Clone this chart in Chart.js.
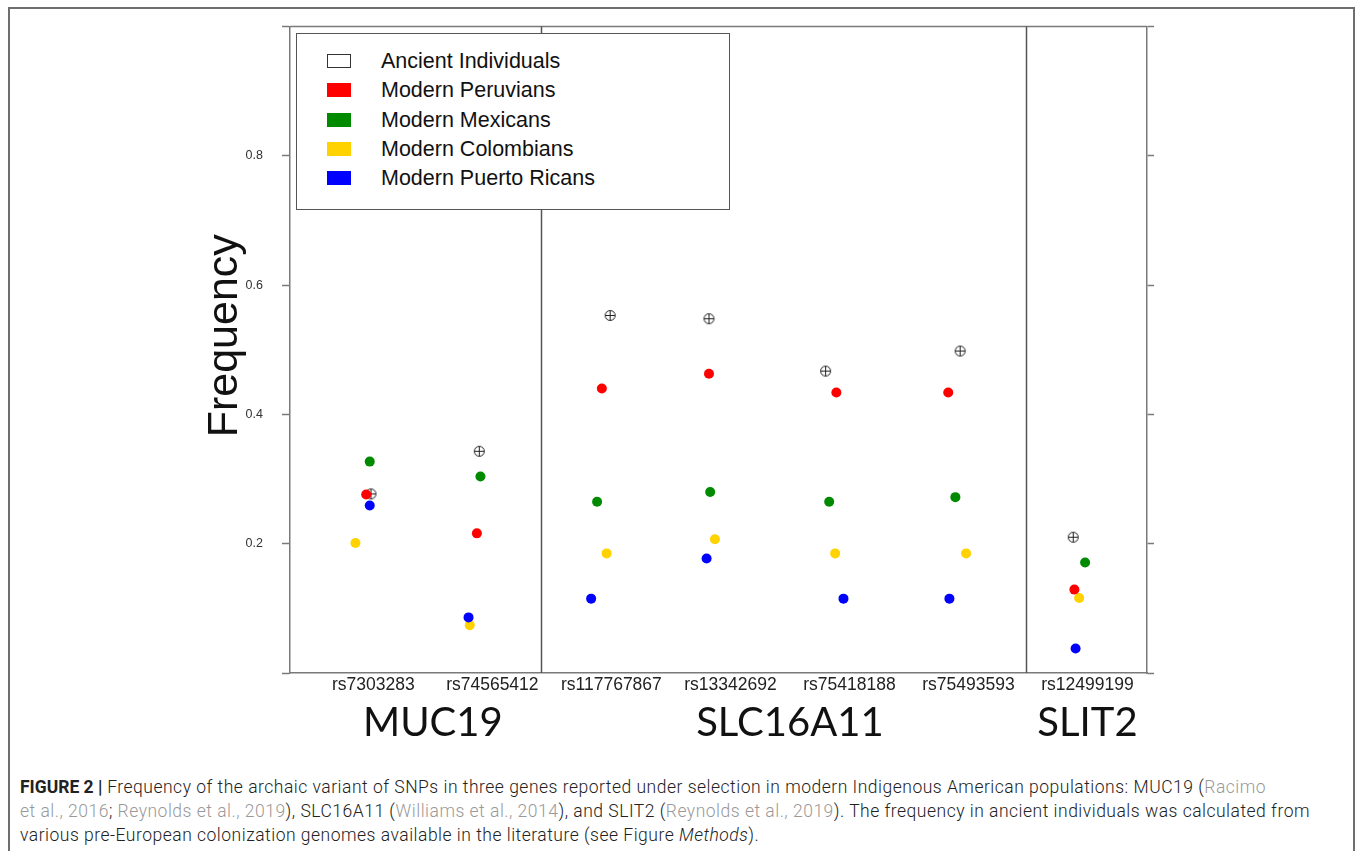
<!DOCTYPE html>
<html>
<head>
<meta charset="utf-8">
<script src="https://cdn.jsdelivr.net/npm/chart.js@4.4.0/dist/chart.umd.min.js"></script>
<style>
  html, body { margin: 0; padding: 0; background: #fff; }
  body { width: 1355px; height: 851px; position: relative; overflow: hidden; font-family: "Liberation Sans", Arial, sans-serif; }
  #frame { position: absolute; left: 8px; top: 7px; width: 1343px; height: 900px; border: 2px solid #6e6e6e; border-bottom: none; }
  #wrap { position: absolute; left: 0; top: 0; width: 1355px; height: 760px; }
  #legendBox { position: absolute; left: 296px; top: 33px; width: 432px; height: 175px; border: 1px solid #555; background: #fff; }
  .row { position: absolute; left: 0; height: 24px; line-height: 24px; font-size: 21.5px; color: #111; }
  .row .sw { position: absolute; left: 30px; top: 5px; width: 24px; height: 14px; }
  .row .tx { position: absolute; left: 84px; top: 0; white-space: nowrap; }
  #caption { position: absolute; left: 20px; top: 775px; width: 1330px; white-space: nowrap; font-family: "Roboto", sans-serif; font-weight: 300; font-size: 17.5px; letter-spacing: 0.5px; line-height: 24px; color: #222; }
  #caption b { font-weight: 700; letter-spacing: 0; }
  #caption .ref { color: #999; }
</style>
</head>
<body>
<div id="frame"></div>
<div id="wrap"><canvas id="snpChart" width="1355" height="760"></canvas></div>
<div id="legendBox"></div>
<div id="caption"><b>FIGURE 2 |</b> Frequency of the archaic variant of SNPs in three genes reported under selection in modern Indigenous American populations: MUC19 (<span class="ref">Racimo</span><br><span class="ref">et al., 2016</span>; <span class="ref">Reynolds et al., 2019</span>), SLC16A11 (<span class="ref">Williams et al., 2014</span>), and SLIT2 (<span class="ref">Reynolds et al., 2019</span>). The frequency in ancient individuals was calculated from<br>various pre-European colonization genomes available in the literature (see Figure <i>Methods</i>).</div>
<script>
(function() {

var snps = ['rs7303283', 'rs74565412', 'rs117767867', 'rs13342692', 'rs75418188', 'rs75493593', 'rs12499199'];
var genes = ['MUC19', 'SLC16A11', 'SLIT2'];
var geneSnps = [[1, 2], [3, 4, 5, 6], [7]];
var geneBreaks = [2.41, 6.48];
var yTicks = [0.2, 0.4, 0.6, 0.8];

var groups = ['Ancient Individuals', 'Modern Peruvians', 'Modern Mexicans', 'Modern Colombians', 'Modern Puerto Ricans'];
var colors = ['#ffffff', '#ff0000', '#008a00', '#ffd200', '#0000ff'];

// frequencies per SNP (same order as snps)
var ancient   = [0.277, 0.343, 0.553, 0.548, 0.467, 0.498, 0.210];
var peruvian  = [0.276, 0.216, 0.440, 0.463, 0.434, 0.434, 0.129];
var mexican   = [0.327, 0.304, 0.265, 0.280, 0.265, 0.272, 0.171];
var colombian = [0.201, 0.074, 0.185, 0.207, 0.185, 0.185, 0.116];
var puerto    = [0.259, 0.086, 0.115, 0.177, 0.115, 0.115, 0.038];

// horizontal jitter around each SNP position
var jitAncient   = [-0.02, -0.11, -0.01, -0.18, -0.20, -0.07, -0.12];
var jitPeruvian  = [-0.06, -0.13, -0.08, -0.18, -0.11, -0.17, -0.11];
var jitMexican   = [-0.03, -0.10, -0.12, -0.17, -0.17, -0.11, -0.02];
var jitColombian = [-0.15, -0.19, -0.04, -0.13, -0.12, -0.02, -0.07];
var jitPuerto    = [-0.03, -0.20, -0.17, -0.20, -0.05, -0.16, -0.10];

var values = [ancient, peruvian, mexican, colombian, puerto];
var jitters = [jitAncient, jitPeruvian, jitMexican, jitColombian, jitPuerto];

// circled plus marker for ancient individuals
var mark = document.createElement('canvas');
mark.width = 13; mark.height = 13;
var m = mark.getContext('2d');
m.strokeStyle = '#222';
m.lineWidth = 1;
m.beginPath(); m.arc(6.5, 6.5, 5, 0, Math.PI * 2); m.stroke();
m.beginPath(); m.moveTo(6.5, 1.5); m.lineTo(6.5, 11.5); m.moveTo(1.5, 6.5); m.lineTo(11.5, 6.5); m.stroke();

var datasets = [];
for (var g = 0; g < groups.length; g++) {
    var pts = [];
    for (var i = 0; i < snps.length; i++) {
        pts.push({x: i + 1 + jitters[g][i], y: values[g][i]});
    }
    datasets.push({
        label: groups[g],
        data: pts,
        order: groups.length - g,
        backgroundColor: colors[g],
        borderWidth: 0,
        pointRadius: 5,
        pointHoverRadius: 5,
        pointStyle: g === 0 ? mark : 'circle'
    });
}

// legend as html
var lb = document.getElementById('legendBox');
for (var k = 0; k < groups.length; k++) {
    var row = document.createElement('div');
    row.className = 'row';
    row.style.top = (15 + k * 29.3) + 'px';
    var sw = document.createElement('span');
    sw.className = 'sw';
    sw.style.background = colors[k];
    if (k === 0) { sw.style.border = '1px solid #333'; sw.style.width = '22px'; sw.style.height = '12px'; }
    var tx = document.createElement('span');
    tx.className = 'tx';
    tx.textContent = groups[k];
    row.appendChild(sw); row.appendChild(tx);
    lb.appendChild(row);
}

var frame = {
    id: 'frame',
    beforeDatasetsDraw: function(chart) {
        var a = chart.chartArea, c = chart.ctx, xs = chart.scales.x;
        c.save();
        c.strokeStyle = '#7a7a7a';
        c.lineWidth = 1.5;
        c.beginPath(); c.moveTo(a.left, a.top); c.lineTo(a.right, a.top); c.stroke();
        c.strokeStyle = '#555';
        geneBreaks.forEach(function(b) {
            var px = Math.round(xs.getPixelForValue(b)) + 0.5;
            c.beginPath(); c.moveTo(px, a.top); c.lineTo(px, a.bottom); c.stroke();
        });
        c.restore();
    },
    afterDraw: function(chart) {
        var c = chart.ctx, xs = chart.scales.x, a = chart.chartArea;
        c.save();
        c.fillStyle = '#111';
        c.textAlign = 'center';
        c.textBaseline = 'middle';
        c.font = '40px Lato, "Open Sans", sans-serif';
        genes.forEach(function(name, gi) {
            var s = geneSnps[gi];
            var mid = (s[0] + s[s.length - 1]) / 2;
            c.fillText(name, xs.getPixelForValue(mid), a.bottom + 50);
        });
        c.translate(225, (a.top + a.bottom) / 2 - 14);
        c.rotate(-Math.PI / 2);
        c.font = '43px "Liberation Sans", Arial, sans-serif';
        c.fillText('Frequency', 0, 0);
        c.restore();
    }
};

function tickLabel(v) {
    var r = Math.round(v * 10) / 10;
    return yTicks.indexOf(r) >= 0 ? r.toFixed(1) : '';
}

var config = {
    type: 'scatter',
    data: { datasets: datasets },
    options: {
        responsive: false,
        animation: false,
        layout: { padding: { top: 24, left: 0, right: 0, bottom: 0 } },
        plugins: { legend: { display: false }, tooltip: { enabled: false } },
        scales: {
            x: {
                type: 'linear',
                min: 0.3,
                max: 7.5,
                afterBuildTicks: function(scale) {
                    scale.ticks = snps.map(function(s, i) { return {value: i + 1}; });
                },
                afterFit: function(scale) { scale.height = 87; },
                ticks: {
                    callback: function(v) { return snps[Math.round(v) - 1]; },
                    autoSkip: false,
                    maxRotation: 0,
                    padding: 2,
                    color: '#222',
                    font: { family: '"Liberation Sans", Arial, sans-serif', size: 17.5 }
                },
                grid: { display: false, drawTicks: false, tickLength: 0 },
                border: { display: true, color: '#7a7a7a', width: 1.5 }
            },
            y: {
                position: 'left',
                min: 0,
                max: 1,
                afterFit: function(scale) { scale.width = 290; },
                ticks: {
                    stepSize: 0.2,
                    callback: tickLabel,
                    padding: 19,
                    color: '#333',
                    font: { family: '"Liberation Sans", Arial, sans-serif', size: 12.5 }
                },
                grid: { drawOnChartArea: false, drawTicks: true, tickLength: 8, tickColor: '#7a7a7a', tickWidth: 1.5 },
                border: { display: true, color: '#7a7a7a', width: 1.5 }
            },
            y2: {
                position: 'right',
                min: 0,
                max: 1,
                afterFit: function(scale) { scale.width = 208; },
                ticks: { stepSize: 0.2, display: false },
                grid: { drawOnChartArea: false, drawTicks: true, tickLength: 7, tickColor: '#7a7a7a', tickWidth: 1.5 },
                border: { display: true, color: '#7a7a7a', width: 1.5 }
            }
        }
    },
    plugins: [frame]
};

window.onload = function() {
    var ctx = document.getElementById('snpChart').getContext('2d');
    window.snpChart = new Chart(ctx, config);
};

})();
</script>
</body>
</html>
